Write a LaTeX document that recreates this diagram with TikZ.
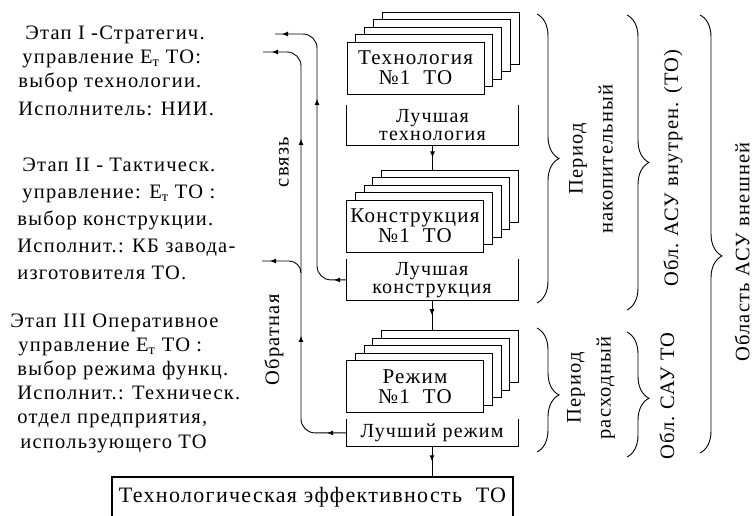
\documentclass[tikz,border=0pt]{standalone}
\usepackage{fontspec}
\setmainfont{Liberation Serif}[LetterSpace=6]
\usetikzlibrary{positioning, arrows.meta, decorations.markings, decorations.pathreplacing}

\tikzset{
  card/.style={draw, fill=white, minimum width=137, minimum height=52, align=center, inner sep=0,
    font=\fontsize{21}{20}\selectfont},
  best/.style={minimum width=171, align=center, inner sep=0, font=\fontsize{20}{18}\selectfont},
  stage/.style={anchor=north west, align=left, inner sep=0},
  vlabel/.style={rotate=90, align=center, inner sep=0},
  brc/.style={decorate, decoration={brace, amplitude=22pt, aspect=#1}},
  brc/.default=0.5,
  tipat/.style={postaction={decorate, decoration={markings,
    mark=at position #1 with {\arrow{Latex[length=6pt, width=5pt]}}}}},
}

\begin{document}
\begin{tikzpicture}[x=1pt, y=-1pt, line width=0.9pt, font=\fontsize{20.5}{24}\selectfont]
   \useasboundingbox (0,0) rectangle (754,515);

   % этапы слева
   \node[stage, font=\fontsize{20.5}{24}\selectfont] (st1) at (18,25)
     {\hspace*{7pt}Этап I -Стратегич.\\ \hspace*{4pt}управление Е\textsubscript{т} ТО:\\
      выбор технологии.\\[4pt] Исполнитель: НИИ.};
   \node[stage, font=\fontsize{20.5}{27}\selectfont] (st2) at (17,157)
     {\hspace*{5pt}Этап II - Тактическ.\\ \hspace*{5pt}управление: Е\textsubscript{т} ТО :\\
      выбор конструкции.\\ Исполнит.: КБ завода-\\ изготовителя ТО.};
   \node[stage, font=\fontsize{20.5}{24.2}\selectfont] (st3) at (10,313)
     {Этап III Оперативное\\ \hspace*{8pt}управление Е\textsubscript{т} ТО :\\
      \hspace*{7pt}выбор режима функц.\\ \hspace*{7pt}Исполнит.: Техническ.\\
      \hspace*{7pt}отдел предприятия,\\ \hspace*{10pt}использующего ТО};

   % стопки вариантов
   \foreach \k in {4,3,2,1} {
     \node[card, xshift=8.75*\k, yshift=7.5*\k] (tech-\k) at (415.5,68) {};
     \node[card, xshift=8.75*\k, yshift=7.5*\k] (cons-\k) at (415,226) {};
     \node[card, xshift=8.75*\k, yshift=7.5*\k] (mode-\k) at (415,386.5) {};
   }
   \node[card] (tech) at (415.5,68) {Технология\\№1\ \ ТО};
   \node[card] (cons) at (415,226) {Конструкция\\№1\ \ ТО};
   \node[card] (mode) at (415,386.5) {Режим\\№1\ \ ТО};

   % лучшие варианты
   \node[best, minimum height=39, below=11pt of tech.south west, anchor=north west] (btech)
     {Лучшая\\технология};
   \node[best, minimum height=40, below=7pt of cons.south west, anchor=north west] (bcons)
     {Лучшая\\конструкция};
   \node[best, minimum height=27, below=6pt of mode.south west, anchor=north west] (bmode)
     {Лучший режим};
   \foreach \b in {btech, bcons, bmode}
     \draw (\b.north west) -- (\b.south west) -- (\b.south east) -- (\b.north east);

   % итог
   \node[draw, line width=2.4pt, minimum width=401, minimum height=40, inner sep=0,
     font=\fontsize{22}{24}\selectfont] (eff) at (312.5,497)
     {Технологическая эффективность\ \ ТО};

   \draw[tipat=.5] (btech.south) -- (btech.south |- cons-4.north);
   \draw[tipat=.5] (bcons.south) -- (bcons.south |- mode-4.north);
   \draw[tipat=.5] (bmode.south) -- (bmode.south |- eff.north);

   % обратная связь
   \coordinate (kA) at (317,34);
   \coordinate (oA) at (275,34);
   \coordinate (kB) at (301,52);
   \coordinate (oB) at (263,52);
   \coordinate (jB) at (301,273);
   \coordinate (oC) at (262,261);
   \draw[rounded corners=14, tipat=12pt, tipat=204pt, tipat=-7pt] (bcons.west) -| (kA) -- (oA);
   \draw[rounded corners=14, tipat=19pt, tipat=136pt, tipat=333pt, tipat=-9pt]
     (bmode.west) -| (kB) -- (oB);
   \draw[rounded corners=12, tipat=-8pt] (jB) |- (oC);
   \node[vlabel] (svz) at (284,162) {связь};
   \node[vlabel] (obr) at (274,340) {Обратная};

   % фигурные скобки
   \draw[brc] (537,14) -- (537,303);
   \draw[brc=0.54] (537,328) -- (537,452);
   \draw[brc] (627,15) -- (627,310);
   \draw[brc=0.53] (627,332) -- (627,457);
   \draw[brc=0.55] (700,15) -- (700,453);

   \node[vlabel, font=\fontsize{20.5}{30}\selectfont] (pn) at (591,159) {Период\\накопительный};
   \node[vlabel, font=\fontsize{20.5}{30}\selectfont] (pr) at (591,388) {Период\\расходный};
   \node[vlabel] (asu) at (673,168) {Обл.\ АСУ внутрен. (ТО)};
   \node[vlabel] (sau) at (667,396) {Обл.\ САУ ТО};
   \node[vlabel] (ext) at (742,252) {Область АСУ внешней};
\end{tikzpicture}
\end{document}
